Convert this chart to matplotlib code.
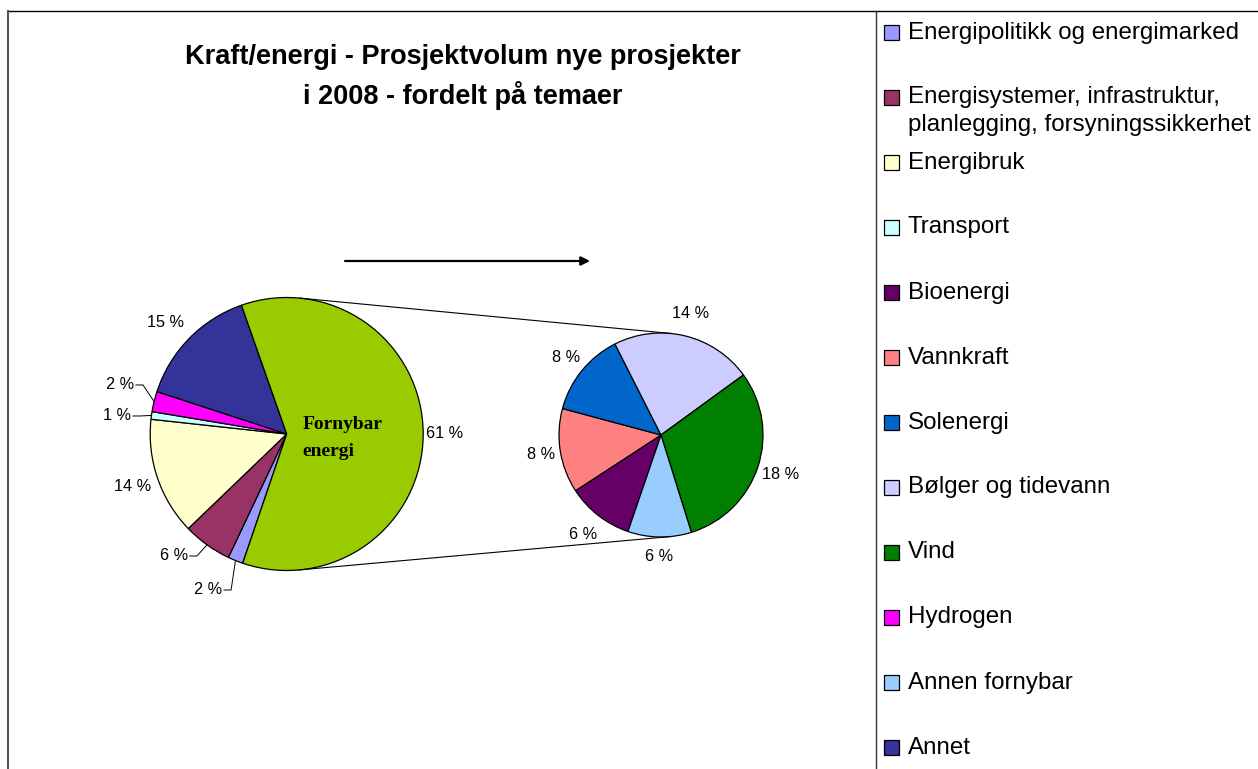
import math
import matplotlib
matplotlib.use("Agg")
import matplotlib.pyplot as plt
from matplotlib.patches import Rectangle

# ---------------- data ----------------
title_text = "Kraft/energi - Prosjektvolum nye prosjekter\ni 2008 - fordelt på temaer"

main_labels = ["Energipolitikk og energimarked",
               "Energisystemer, infrastruktur,\nplanlegging, forsyningssikkerhet",
               "Energibruk", "Transport", "Hydrogen", "Annet", "Fornybar energi"]
main_values = [1.8, 5.8, 13.9, 0.9, 2.4, 14.6]          # + Fornybar (sum of secondary)

sec_labels = ["Bioenergi", "Vannkraft", "Solenergi", "Bølger og tidevann",
              "Vind", "Annen fornybar"]
sec_values = [6.4, 8.1, 8.1, 13.6, 18.3, 6.1]

fornybar_value = sum(sec_values)
main_all = main_values + [fornybar_value]

colors = {
    "Energipolitikk og energimarked": "#9999FF",
    "Energisystemer, infrastruktur,\nplanlegging, forsyningssikkerhet": "#993366",
    "Energibruk": "#FFFFCC",
    "Transport": "#CCFFFF",
    "Bioenergi": "#660066",
    "Vannkraft": "#FF8080",
    "Solenergi": "#0066CC",
    "Bølger og tidevann": "#CCCCFF",
    "Vind": "#008000",
    "Hydrogen": "#FF00FF",
    "Annen fornybar": "#99CCFF",
    "Annet": "#333399",
    "Fornybar energi": "#99CC00",
}
legend_order = ["Energipolitikk og energimarked",
                "Energisystemer, infrastruktur,\nplanlegging, forsyningssikkerhet",
                "Energibruk", "Transport", "Bioenergi", "Vannkraft", "Solenergi",
                "Bølger og tidevann", "Vind", "Hydrogen", "Annen fornybar", "Annet"]

# ---------------- layout ----------------
W, H = 1258, 769
fig = plt.figure(figsize=(W / 100, H / 100), dpi=100)
ax = fig.add_axes([0, 0, 1, 1])
SANS = "Liberation Sans"


def Y(p):
    return H - p


main_c = (286.7, Y(434))
main_r = 136.5
sec_c = (661.0, Y(435))
sec_r = 102.0
edge = dict(edgecolor="black", linewidth=0.9)

w_main, _ = ax.pie(main_all, colors=[colors[l] for l in main_labels],
                   startangle=251.2, counterclock=False, radius=main_r,
                   center=main_c, wedgeprops=edge, frame=True)
w_sec, _ = ax.pie(sec_values, colors=[colors[l] for l in sec_labels],
                  startangle=251.1, counterclock=False, radius=sec_r,
                  center=sec_c, wedgeprops=edge, frame=True)

ax.set_xlim(0, W)
ax.set_ylim(0, H)
ax.set_aspect("equal")
ax.axis("off")


def polar(c, r, ang, f):
    a = math.radians(ang)
    return c[0] + r * f * math.cos(a), c[1] + r * f * math.sin(a)


def pct(v):
    return f"{int(round(v))} %"


lab_fs = 11.7
# main pie labels: (angle override, distance factor, leader?)
main_lab_layout = [(247.5, 1.237, True), (231.0, 1.15, True), (None, 1.19, False),
                   (173.4, 1.148, True), (162.2, 1.175, True), (137.4, 1.21, False),
                   (None, 1.16, False)]
for w, v, (ang, f, leader) in zip(w_main, main_all, main_lab_layout):
    mid = (w.theta1 + w.theta2) / 2
    a = mid if ang is None else ang
    x, y = polar(main_c, main_r, a, f)
    if leader:
        ax.text(x, y, pct(v), ha="right", va="center", fontsize=lab_fs,
                family=SANS, color="black")
        ex, ey = polar(main_c, main_r, mid, 1.0)
        ax.plot([x + 2, x + 9, ex], [y, y, ey], color="black", lw=0.7)
    else:
        ax.text(x, y, pct(v), ha="center", va="center", fontsize=lab_fs,
                family=SANS, color="black")

sec_lab_dist = [1.24, 1.19, 1.2, 1.23, 1.23, 1.19]
for w, v, f in zip(w_sec, sec_values, sec_lab_dist):
    mid = (w.theta1 + w.theta2) / 2
    x, y = polar(sec_c, sec_r, mid, f)
    ax.text(x, y, pct(v), ha="center", va="center", fontsize=lab_fs,
            family=SANS, color="black")

# composite slice name
fy = "Fornybar\nenergi".split("\n")
ax.text(302.5, Y(429), fy[0], ha="left", va="baseline", fontsize=14,
        family="Liberation Serif", fontweight="bold")
ax.text(302.5, Y(456), fy[1], ha="left", va="baseline", fontsize=14,
        family="Liberation Serif", fontweight="bold")

# connector lines (outer common tangents)
dx, dy = sec_c[0] - main_c[0], sec_c[1] - main_c[1]
d = math.hypot(dx, dy)
base = math.degrees(math.atan2(dy, dx))
alpha = math.degrees(math.acos((main_r - sec_r) / d))
for s in (1, -1):
    t = base + s * alpha
    p1 = polar(main_c, main_r, t, 1.0)
    p2 = polar(sec_c, sec_r, t, 1.0)
    ax.plot([p1[0], p2[0]], [p1[1], p2[1]], color="black", lw=0.8)

# arrow
ax.annotate("", xy=(590, Y(261)), xytext=(345, Y(261)),
            arrowprops=dict(arrowstyle="-|>", color="black", lw=1.6,
                            mutation_scale=13, shrinkA=0, shrinkB=0))

# title
tl = title_text.split("\n")
ax.text(462.5, Y(64), tl[0], ha="center", va="baseline", fontsize=19.5,
        family=SANS, fontweight="bold")
ax.text(462.5, Y(104), tl[1], ha="center", va="baseline", fontsize=19.5,
        family=SANS, fontweight="bold")

# borders
ax.plot([8, W], [Y(11), Y(11)], color="black", lw=1.0, solid_capstyle="butt")
ax.plot([8, 8], [Y(11), 0], color="#555555", lw=1.5)
ax.plot([876, 876], [Y(11), 0], color="#333333", lw=1.0)

# legend
leg_fs = 17.4
for k, lab in enumerate(legend_order):
    base_y = 38.5 + 65 * k
    ax.add_patch(Rectangle((883.5, Y(base_y - 6) - 7.5), 15, 15,
                           facecolor=colors[lab], edgecolor="black", lw=0.9))
    for j, line in enumerate(lab.split("\n")):
        ax.text(908, Y(base_y + 27 * j), line, ha="left", va="baseline",
                fontsize=leg_fs, family=SANS, color="black")

fig.savefig("out.png", dpi=100, facecolor="white")
